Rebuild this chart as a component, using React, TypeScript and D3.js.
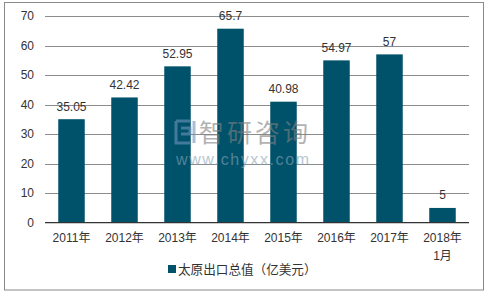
import React from "react";
import * as d3 from "d3";

const categories: string[][] = [
  ["2011年"], ["2012年"], ["2013年"], ["2014年"], ["2015年"], ["2016年"], ["2017年"], ["2018年", "1月"],
];
const values: number[] = [35.05, 42.42, 52.95, 65.7, 40.98, 54.97, 57, 5];
const valueLabels: string[] = ["35.05", "42.42", "52.95", "65.7", "40.98", "54.97", "57", "5"];
const yTicks: number[] = [0, 10, 20, 30, 40, 50, 60, 70];
const seriesName = "太原出口总值（亿美元）";

const W = 488;
const H = 295;
const FONT = "'Liberation Sans', Arial, 'Noto Sans CJK SC', sans-serif";
const BAR = "#00526B";
const TEXT = "#333333";

export default function App() {
  const left = 45, right = 469, top = 16, bottom = 222.7;
  const x = d3.scaleBand<number>().domain(d3.range(categories.length)).range([left, right]).paddingInner(0.5).paddingOuter(0.25);
  const y = d3.scaleLinear().domain([0, 70]).range([bottom, top]);

  return (
    <svg width={W} height={H} style={{ position: "absolute", left: 0, top: 0 }} fontFamily={FONT}>
      <rect x={0} y={0} width={W} height={H} fill="#fff" />
      <rect x={4.5} y={2.5} width={479} height={287.5} fill="none" stroke="#8a8a8a" strokeWidth={1} />
      {yTicks.map((t) => (
        <g key={t}>
          {t !== 0 && <line x1={left} x2={right} y1={Math.round(y(t)) + 0.5} y2={Math.round(y(t)) + 0.5} stroke="#8c8c8c" strokeWidth={1} />}
          <text x={34} y={y(t) + 4.3} textAnchor="end" fontSize={12} fill={TEXT}>{t}</text>
        </g>
      ))}
      {values.map((v, i) => (
        <rect key={i} x={x(i)!} y={y(v)} width={x.bandwidth()} height={bottom - y(v)} fill={BAR} />
      ))}
      <line x1={left} x2={right} y1={bottom} y2={bottom} stroke="#333" strokeWidth={1.2} />
      {values.map((v, i) => (
        <text key={i} x={x(i)! + x.bandwidth() / 2} y={y(v) - 8.5} textAnchor="middle" fontSize={12} fill={TEXT}>{valueLabels[i]}</text>
      ))}
      {categories.map((c, i) => (
        <text key={i} x={x(i)! + x.bandwidth() / 2} y={242.3} textAnchor="middle" fontSize={12} fill={TEXT}>
          {c.map((line, j) => (
            <tspan key={j} x={x(i)! + x.bandwidth() / 2} dy={j === 0 ? 0 : 18}>{line}</tspan>
          ))}
        </text>
      ))}
      <rect x={168} y={265} width={8} height={8} fill={BAR} />
      <text x={178} y={273.5} fontSize={12.6} fill={TEXT}>{seriesName}</text>
      <g opacity={0.6}>
        <path d="M176,121 h14 M176,121 v22 h14 M181,128 h9 v6 h-9 M194,121 v22" fill="none" stroke="#6f93bd" strokeWidth={3} />
        <text x={199} y={142} fontSize={25} fill="#808080" letterSpacing={3} fontFamily="'Noto Sans CJK SC', sans-serif">智研咨询</text>
        <text x={176} y={165} fontSize={16} fill="#87a3b3" letterSpacing={1.6} fontFamily={FONT}>www.chyxx.com</text>
      </g>
    </svg>
  );
}
